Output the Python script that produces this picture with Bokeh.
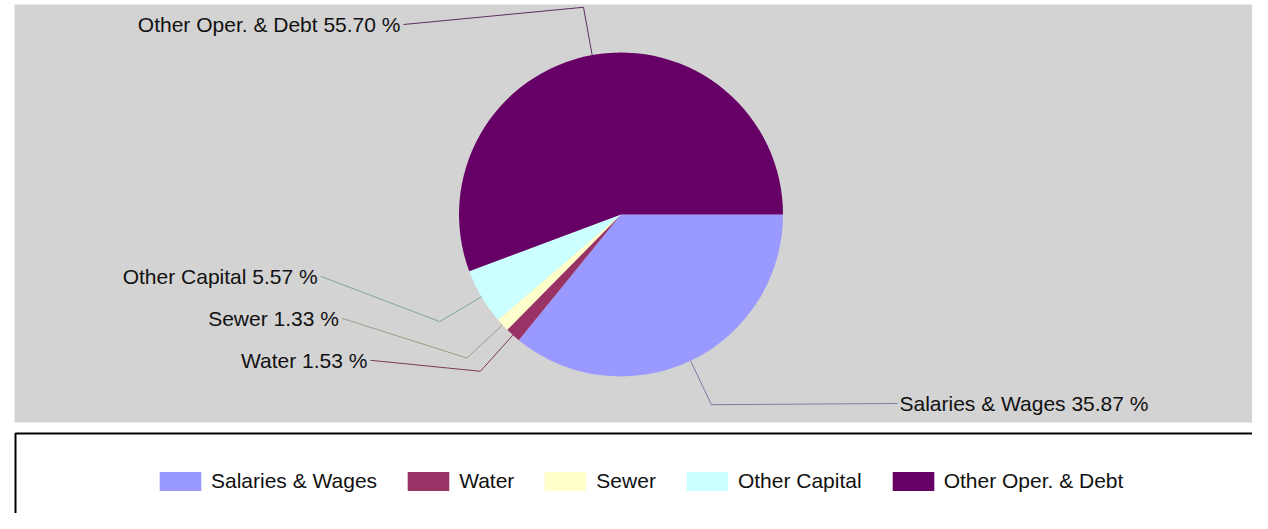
import numpy as np
from bokeh.plotting import figure
from bokeh.models import Range1d, Legend, LegendItem
from bokeh.core.properties import value
from bokeh.embed import file_html
from bokeh.resources import INLINE

# ---- data ----
categories = ["Salaries & Wages", "Water", "Sewer", "Other Capital", "Other Oper. & Debt"]
percentages = [35.87, 1.53, 1.33, 5.57, 55.70]

# ---- styles ----
slice_colors = ["#9999FF", "#993366", "#FFFFCC", "#CCFFFF", "#660066"]
leader_colors = ["#7a7aa6", "#7a3a5e", "#9c9c88", "#80a2a2", "#5e2e60"]
leader_len = [186, 110, 125, 119, 180]   # horizontal reach of each leader (px)
FONT = "Liberation Sans"

W, H = 1252, 513
OX, OY = 0, 513          # page-pixel -> data conversion
CX, CY, R = 620.5, 214.0, 162.0   # pie centre / radius in page pixels


def fx(x):
    return x - OX


def fy(y):
    return OY - y


p = figure(width=W, height=H, x_range=Range1d(0, W), y_range=Range1d(0, H),
           x_axis_type=None, y_axis_type=None, output_backend="svg",
           toolbar_location=None, min_border=0)
p.grid.visible = False
p.outline_line_color = None
p.background_fill_color = "white"
p.border_fill_color = "white"

# plot area background
p.quad(left=fx(14), right=W + 5, top=fy(4), bottom=fy(422), fill_color="#D3D3D3", line_color=None)
# legend frame
p.quad(left=fx(15), right=W + 10, top=fy(433), bottom=-10, fill_color="white",
       line_color="black", line_width=2)

# ---- wedges (clockwise from 3 o'clock) ----
frac = np.array(percentages) / 100.0
cum = np.concatenate([[0.0], np.cumsum(frac)]) * 2 * np.pi
s_cw, e_cw = cum[:-1], cum[1:]
renderers = []
for i in range(len(categories)):
    r = p.wedge(x=fx(CX), y=fy(CY), radius=R, start_angle=-e_cw[i], end_angle=-s_cw[i],
                fill_color=slice_colors[i], line_color=None)
    renderers.append(r)

# ---- leader lines & labels ----
mid = (s_cw + e_cw) / 2
edge_x = CX + R * np.cos(mid)
edge_y = CY + R * np.sin(mid)
elb_x = CX + 1.3 * R * np.cos(mid)
elb_y = CY + 1.3 * R * np.sin(mid)

right_side = np.cos(mid) >= 0
lab_y = np.zeros(len(categories))
# left side: spread from the bottom upward
left_idx = sorted([i for i in range(len(categories)) if not right_side[i]], key=lambda i: -elb_y[i])
prev = None
for i in left_idx:
    y = elb_y[i] - 11
    if prev is not None:
        y = min(y, prev - 42)
    y = max(y, 24)
    lab_y[i] = y
    prev = y
for i in range(len(categories)):
    if right_side[i]:
        lab_y[i] = min(elb_y[i] - 1, 403)

end_x = np.where(right_side, elb_x + np.array(leader_len), elb_x - np.array(leader_len))

xs, ys = [], []
for i in range(len(categories)):
    xs.append([fx(edge_x[i]), fx(elb_x[i]), fx(end_x[i])])
    ys.append([fy(edge_y[i]), fy(elb_y[i]), fy(lab_y[i])])
p.multi_line(xs=xs, ys=ys, line_color=leader_colors, line_width=1)

labels = [f"{c} {v:.2f} %" for c, v in zip(categories, percentages)]
for i in range(len(categories)):
    if right_side[i]:
        tx, align = end_x[i] + 2, "left"
    else:
        tx, align = end_x[i] - 3, "right"
    p.text(x=[fx(tx)], y=[fy(lab_y[i])], text=[labels[i]], text_align=align,
           text_baseline="middle", text_font=value(FONT), text_font_size="21px",
           text_color="#111111")

# ---- legend ----
items = [LegendItem(label=categories[i], renderers=[renderers[i]]) for i in range(len(categories))]
legend = Legend(items=items, orientation="horizontal", location=(fx(154), fy(493)),
                glyph_width=52, glyph_height=24, label_standoff=5, spacing=25,
                padding=0, margin=0, border_line_color=None, background_fill_alpha=0,
                label_text_font=FONT, label_text_font_size="21px", label_text_color="#111111",
                label_height=24)
p.add_layout(legend)

open("out.html", "w").write(file_html(p, INLINE))
